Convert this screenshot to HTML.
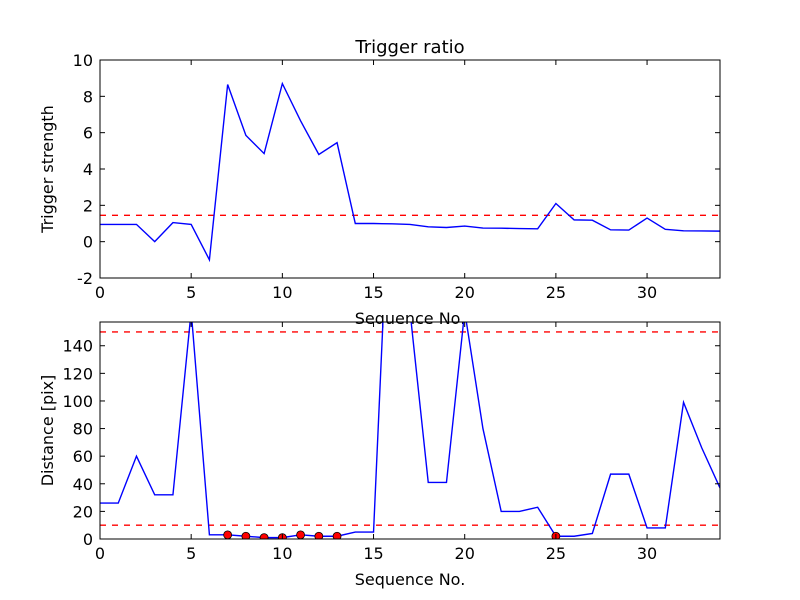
<!DOCTYPE html>
<html><head><meta charset="utf-8"><style>
html,body{margin:0;padding:0;background:#fff;}
svg{display:block;font-family:"DejaVu Sans","Liberation Sans",sans-serif;}
</style></head><body>
<svg id="chart" width="800" height="600" viewBox="0 0 800 600">
<rect width="800" height="600" fill="#fff"/>
<text x="410" y="53" font-size="18" text-anchor="middle">Trigger ratio</text>
<g id="top"></g>
<g id="bot"></g>
</svg>
<script>
const seq = [0,1,2,3,4,5,6,7,8,9,10,11,12,13,14,15,16,17,18,19,20,21,22,23,24,25,26,27,28,29,30,31,32,33,34];
const strength = [0.95,0.95,0.95,0.0,1.05,0.95,-1.0,8.65,5.85,4.85,8.7,6.65,4.8,5.45,1.0,1.0,0.98,0.95,0.82,0.78,0.86,0.75,0.74,0.72,0.71,2.1,1.2,1.18,0.65,0.64,1.3,0.68,0.6,0.59,0.58];
const strengthThreshold = [1.45];
const distance = [26,26,60,32,32,165,3,3,2,1,1,3,2,2,5,5,300,165,41,41,165,80,20,20,23,2,2,4,47,47,8,8,99,66,37];
const distThresholds = [10,150];
const markedSeq = [7,8,9,10,11,12,13,25];
const xTicks = [0,5,10,15,20,25,30];
const topYTicks = [-2,0,2,4,6,8,10];
const botYTicks = [0,20,40,60,80,100,120,140];

const NS = "http://www.w3.org/2000/svg";
function mk(parent, tag, attrs){const e=document.createElementNS(NS,tag);for(const k in attrs)e.setAttribute(k,attrs[k]);parent.appendChild(e);return e;}

function panel(g, box, xmin, xmax, ymin, ymax, ys, yt, thresholds, ylabel, marks, prefix){
  const sx=v=>box.x0+(v-xmin)/(xmax-xmin)*(box.x1-box.x0);
  const sy=v=>box.y1-(v-ymin)/(ymax-ymin)*(box.y1-box.y0);
  const cid=prefix+"-clip";
  const defs=mk(g,"defs",{});
  const cp=mk(defs,"clipPath",{id:cid});
  mk(cp,"rect",{x:box.x0,y:box.y0,width:box.x1-box.x0,height:box.y1-box.y0});
  const plot=mk(g,"g",{"clip-path":"url(#"+cid+")"});
  
  
  thresholds.forEach(t=>{
    const l=mk(plot,"line",{x1:box.x0,x2:box.x1,y1:sy(t),y2:sy(t),stroke:"#ff0000","stroke-width":1.3,"stroke-dasharray":"6,6"});
    
    
  });
  const pts=seq.map((s,i)=>sx(s).toFixed(2)+","+sy(ys[i]).toFixed(2)).join(" ");
  const pl=mk(plot,"polyline",{points:pts,fill:"none",stroke:"#0000ff","stroke-width":1.4});
  
  
  if(marks){marks.forEach(m=>{
    const c=mk(plot,"circle",{cx:sx(m),cy:sy(ys[seq.indexOf(m)]),r:4,fill:"#ff0000",stroke:"#000","stroke-width":0.8});
    
    
  });}
  const fr=mk(g,"rect",{x:box.x0,y:box.y0,width:box.x1-box.x0,height:box.y1-box.y0,fill:"none",stroke:"#000","stroke-width":1});
  
  
  xTicks.forEach(t=>{
    const x=sx(t);
    mk(g,"line",{x1:x,x2:x,y1:box.y1,y2:box.y1-5,stroke:"#000"});
    mk(g,"line",{x1:x,x2:x,y1:box.y0,y2:box.y0+5,stroke:"#000"});
    const tx=mk(g,"text",{x:x,y:box.y1+20,"font-size":16,"text-anchor":"middle"});
    tx.textContent=t;
    
    
  });
  yt.forEach(t=>{
    const y=sy(t);
    mk(g,"line",{x1:box.x0,x2:box.x0+5,y1:y,y2:y,stroke:"#000"});
    mk(g,"line",{x1:box.x1,x2:box.x1-5,y1:y,y2:y,stroke:"#000"});
    const tx=mk(g,"text",{x:box.x0-7,y:y+6,"font-size":16,"text-anchor":"end"});
    tx.textContent=t;
    
    
  });
  const xl=mk(g,"text",{x:(box.x0+box.x1)/2,y:box.y1+46,"font-size":16,"text-anchor":"middle"});
  xl.textContent="Sequence No.";
  
  
  const yc=(box.y0+box.y1)/2;
  const yl=mk(g,"text",{x:box.x0-47,y:yc,"font-size":16,"text-anchor":"middle",transform:"rotate(-90 "+(box.x0-47)+" "+yc+")"});
  yl.textContent=ylabel;
  
  
}
panel(document.getElementById("top"),{x0:100,x1:720,y0:60,y1:278},0,34,-2,10,strength,topYTicks,strengthThreshold,"Trigger strength",null,"top");
const bx=document.getElementById("bot");
panel(bx,{x0:100,x1:720,y0:322,y1:539},0,34,0,157.2,distance,botYTicks,distThresholds,"Distance [pix]",markedSeq,"bottom");
bx.lastChild.setAttribute("x",53);
bx.lastChild.setAttribute("transform","rotate(-90 53 430.5)");
</script>
</body></html>
